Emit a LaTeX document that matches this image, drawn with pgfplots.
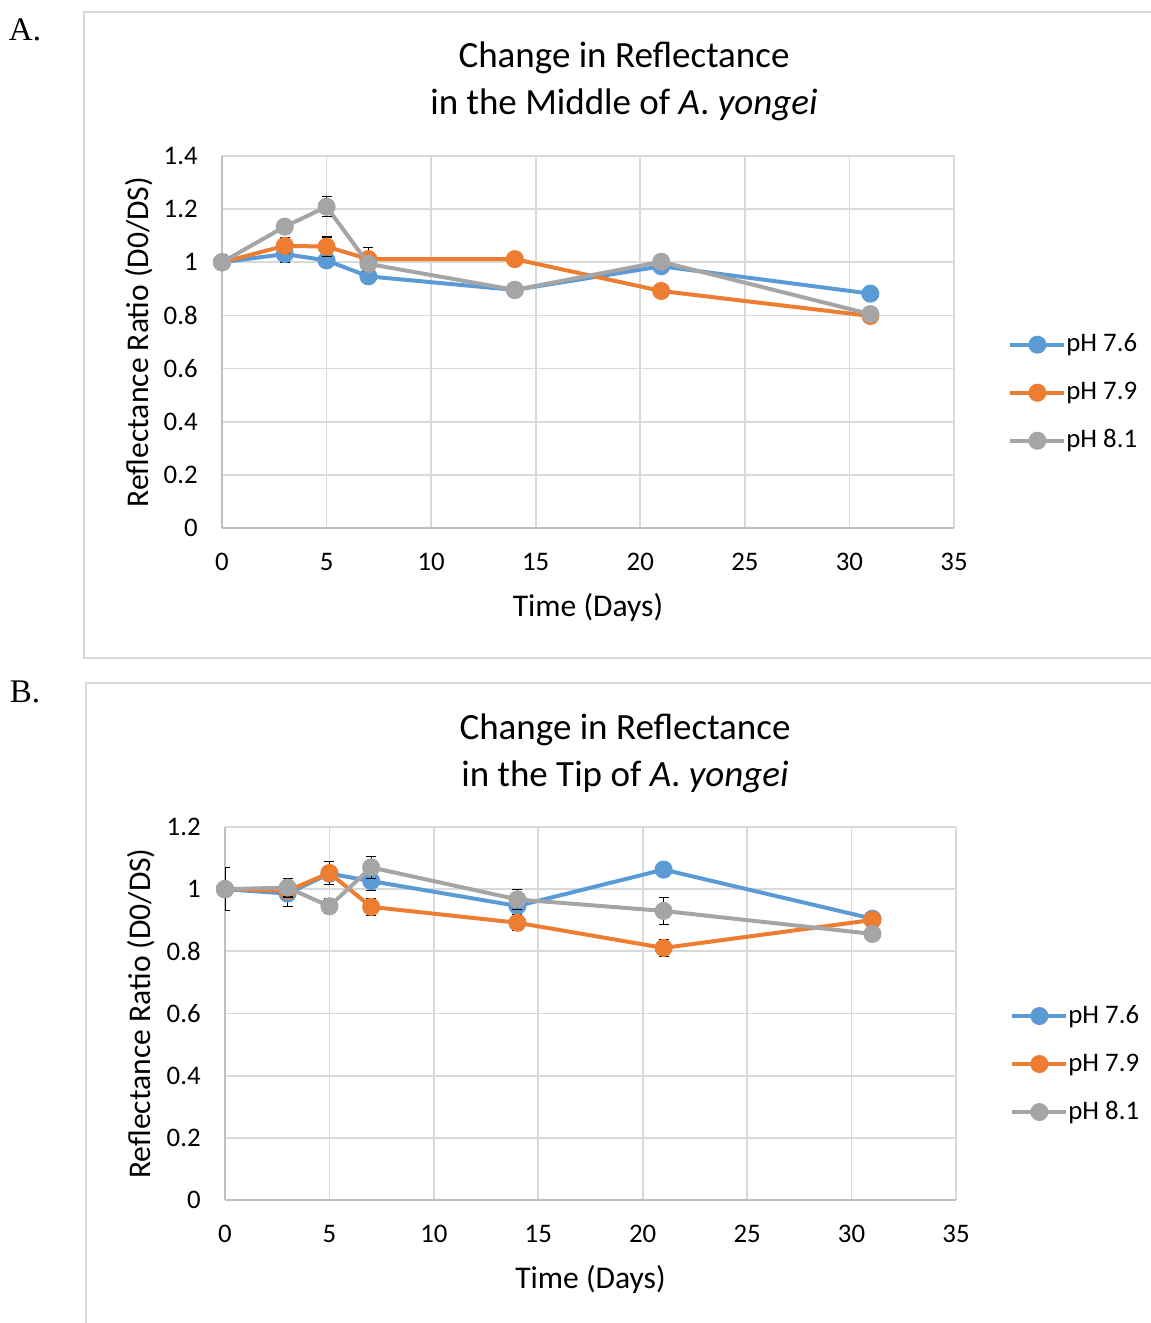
\documentclass[border=0pt]{standalone}
\usepackage{fontspec}
\setmainfont{Carlito}
\newfontfamily\serifA{Liberation Serif}
\usepackage{pgfplots}
\pgfplotsset{compat=1.18}

\definecolor{c76}{HTML}{5B9BD5}
\definecolor{c79}{HTML}{ED7D31}
\definecolor{c81}{HTML}{A5A5A5}
\definecolor{gridc}{HTML}{D9D9D9}
\definecolor{axisc}{HTML}{BFBFBF}

% panel A: days, reflectance ratio, error
\pgfplotstableread{
x y e
0 1.000 0
3 1.031 0.030
5 1.007 0
7 0.947 0
14 0.896 0
21 0.985 0
31 0.882 0
}\Amid
\pgfplotstableread{
x y e
0 1.000 0
3 1.062 0.030
5 1.059 0.036
7 1.012 0.045
14 1.012 0.024
21 0.892 0
31 0.798 0
}\Bmid
\pgfplotstableread{
x y e
0 1.000 0.028
3 1.134 0
5 1.209 0.038
7 0.994 0
14 0.896 0.010
21 1.002 0
31 0.805 0
}\Cmid
% panel B
\pgfplotstableread{
x y e
0 1.000 0
3 0.986 0.043
5 1.050 0
7 1.026 0.030
14 0.946 0
21 1.063 0.012
31 0.905 0
}\Atip
\pgfplotstableread{
x y e
0 1.000 0
3 0.995 0
5 1.052 0.036
7 0.943 0.028
14 0.892 0.026
21 0.811 0.027
31 0.901 0
}\Btip
\pgfplotstableread{
x y e
0 1.000 0.069
3 1.005 0.030
5 0.945 0.024
7 1.070 0.035
14 0.967 0.032
21 0.930 0.043
31 0.856 0
}\Ctip

\pgfplotsset{
  refl/.style={
    scale only axis,
    xmin=0, xmax=35, ymin=0,
    xtick={0,5,...,35},
    axis x line*=bottom, axis y line*=left,
    axis line style={axisc, line width=1pt},
    major tick length=0pt,
    grid=major,
    major grid style={gridc, line width=0.9pt},
    clip mode=individual,
    tick label style={font=\fontsize{13.4}{16}\selectfont, inner sep=0pt},
    /pgf/number format/assume math mode=true,
    /pgf/number format/fixed,
    yticklabel style={/pgf/number format/precision=1},
    xtick style={draw=none}, ytick style={draw=none},
    xticklabel style={yshift=-12.5pt},
    yticklabel style={xshift=-12pt},
    label style={font=\fontsize{15.8}{19}\selectfont},
    xlabel={Time (Days)},
    ylabel={Reflectance Ratio (D0/DS)},
    legend cell align=left,
    legend image code/.code={
      \draw[mark repeat=2,mark phase=2,#1] plot coordinates {(0pt,0pt) (13.5pt,0pt) (27pt,0pt)};},
    legend style={draw=none, fill=none, inner sep=0pt,
      font=\fontsize{13.4}{16}\selectfont,
      nodes={inner sep=0pt, text height=10pt, text depth=3pt},
      row sep=11pt, column sep=0pt},
    every axis plot/.append style={line width=2pt, mark=*, mark size=3.5pt},
    error bars/y dir=both,
    error bars/y explicit,
    error bars/error bar style={black, line width=0.6pt},
    error bars/error mark options={black, rotate=90, mark size=2.5pt, line width=0.6pt},
  }
}

\begin{document}
\begin{tikzpicture}
\useasboundingbox (0,0) rectangle (575.5pt,-661.5pt);
\clip (0,0) rectangle (575.5pt,-661.5pt);
\draw[gridc, line width=1pt] (41.75pt,-5.75pt) rectangle (600pt,-329pt);
\draw[gridc, line width=1pt] (43pt,-341.5pt) rectangle (600pt,-700pt);
\node[font=\serifA\fontsize{16.5}{19}\selectfont] at (12.5pt,-15pt) {A.};
\node[font=\serifA\fontsize{16.5}{19}\selectfont] at (12.5pt,-346pt) {B.};

\begin{axis}[refl, at={(111pt,-264pt)}, anchor=south west,
  width=366pt, height=186pt, ymax=1.4, ytick={0,0.2,...,1.4},
  xlabel style={at={(axis description cs:0.5,-0.2124)}, anchor=center},
  ylabel style={at={(axis description cs:-0.1134,0.5)}, anchor=center},
  legend style={at={(axis description cs:1,0.3637)}, anchor=west, xshift=27pt}]
\addplot[c76, mark options={fill=c76, draw=c76}] table[x=x, y=y, y error=e] {\Amid};
\addlegendentry{pH 7.6}
\addplot[c79, mark options={fill=c79, draw=c79}] table[x=x, y=y, y error=e] {\Bmid};
\addlegendentry{pH 7.9}
\addplot[c81, mark options={fill=c81, draw=c81}] table[x=x, y=y, y error=e] {\Cmid};
\addlegendentry{pH 8.1}
\end{axis}

\begin{axis}[refl, at={(112.5pt,-600pt)}, anchor=south west,
  width=365.5pt, height=186.5pt, ymax=1.2, ytick={0,0.2,...,1.2},
  xlabel style={at={(axis description cs:0.5,-0.2118)}, anchor=center},
  ylabel style={at={(axis description cs:-0.115,0.5)}, anchor=center},
  legend style={at={(axis description cs:1,0.3646)}, anchor=west, xshift=27pt}]
\addplot[c76, mark options={fill=c76, draw=c76}] table[x=x, y=y, y error=e] {\Atip};
\addlegendentry{pH 7.6}
\addplot[c79, mark options={fill=c79, draw=c79}] table[x=x, y=y, y error=e] {\Btip};
\addlegendentry{pH 7.9}
\addplot[c81, mark options={fill=c81, draw=c81}] table[x=x, y=y, y error=e] {\Ctip};
\addlegendentry{pH 8.1}
\end{axis}

\node[align=center, font=\fontsize{18.5}{23.5}\selectfont] at (312pt,-40.75pt)
  {Change in Reflectance\\in the Middle of \textit{A}. \textit{yongei}};
\node[align=center, font=\fontsize{18.5}{23.5}\selectfont] at (312.5pt,-376.5pt)
  {Change in Reflectance\\in the Tip of \textit{A}. \textit{yongei}};
\end{tikzpicture}
\end{document}
